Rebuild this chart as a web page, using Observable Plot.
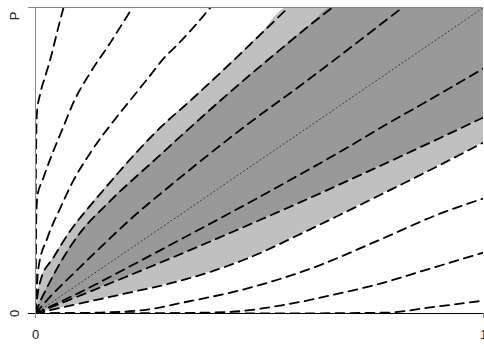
<!DOCTYPE html>
<html><head><meta charset="utf-8">
<script src="https://cdn.jsdelivr.net/npm/d3@7"></script>
<script src="https://cdn.jsdelivr.net/npm/@observablehq/plot@0.6"></script>
<style>body{margin:0;background:#fff;overflow:hidden}</style>
</head><body><div id="chart"></div>
<script>
// Curves: [x, y] pairs, x in [0,1], y in [0,P=1]
const curveA = [[0,0],[0.0004,0.304],[0.0013,0.533],[0.0033,0.657],[0.0112,0.722],[0.0223,0.778],[0.0335,0.833],[0.048,0.918],[0.0625,1]];
const curveB = [[0,0],[0.00067,0.173],[0.0018,0.32],[0.0045,0.386],[0.0156,0.435],[0.0335,0.507],[0.0625,0.611],[0.0848,0.69],[0.1228,0.788],[0.1674,0.886],[0.2165,1]];
const curveC = [[0,0],[0.0011,0.042],[0.0033,0.092],[0.0067,0.15],[0.0268,0.248],[0.0558,0.346],[0.0848,0.435],[0.1228,0.526],[0.1786,0.637],[0.2054,0.686],[0.2522,0.771],[0.2857,0.833],[0.317,0.879],[0.3527,0.935],[0.3906,1]];
const curveD = [[0,0],[0.0045,0.059],[0.0112,0.108],[0.0402,0.183],[0.0781,0.271],[0.1183,0.346],[0.1451,0.392],[0.2188,0.516],[0.279,0.608],[0.346,0.696],[0.442,0.827],[0.5022,0.912],[0.5647,1]];
const curveE = [[0,0],[0.0112,0.042],[0.0223,0.075],[0.0558,0.167],[0.1004,0.265],[0.1607,0.359],[0.2723,0.51],[0.4129,0.696],[0.4799,0.781],[0.5469,0.863],[0.6138,0.944],[0.6629,1]];
const curveF = [[0,0],[0.0335,0.056],[0.0781,0.121],[0.1451,0.216],[0.2188,0.317],[0.2902,0.405],[0.3616,0.49],[0.4732,0.618],[0.5915,0.745],[0.7031,0.869],[0.8192,1]];
const diagonal = [[0,0],[1,1]];
const curveG = [[0,0],[0.1004,0.07],[0.2121,0.155],[0.3237,0.242],[0.4464,0.338],[0.5692,0.437],[0.6875,0.535],[0.7857,0.62],[0.8973,0.713],[1,0.801]];
const curveH = [[0,0],[0.1004,0.059],[0.2121,0.126],[0.3237,0.194],[0.4353,0.264],[0.5915,0.364],[0.7701,0.483],[0.8438,0.533],[0.9196,0.585],[1,0.641]];
const curveI = [[0,0],[0.1004,0.033],[0.2121,0.069],[0.3237,0.107],[0.4732,0.18],[0.6071,0.271],[0.7701,0.388],[0.8527,0.448],[0.9196,0.498],[1,0.559]];
const curveJ = [[0,0],[0.1451,0.003],[0.25,0.013],[0.3304,0.036],[0.4732,0.082],[0.6205,0.15],[0.7701,0.242],[0.904,0.327],[1,0.376]];
const curveK = [[0,0],[0.2567,0.0005],[0.4286,0.005],[0.5469,0.026],[0.6585,0.059],[0.7701,0.098],[0.8817,0.147],[1,0.199]];
const curveL = [[0,0],[0.5915,0.0005],[0.7857,0.003],[0.8817,0.02],[1,0.042]];

const xTicks = [0, 1], xTickLabels = ["0", "1"];
const yTicks = [0, 1], yTickLabels = ["0", "P"];

const rows = pts => pts.map(([x, y]) => ({x, y}));
const topRight = [1, 1];
const dashedCurves = [curveA, curveB, curveC, curveD, curveE, curveF, curveG, curveH, curveI, curveJ, curveK, curveL];

const area = (pts, fill) => Plot.areaY(rows(pts), {x: "x", y: "y", fill, curve: "monotone-x", clip: true});

const chart = Plot.plot({
  width: 484, height: 345,
  marginLeft: 35, marginRight: 1, marginTop: 7, marginBottom: 32,
  x: {domain: [0, 1], axis: null},
  y: {domain: [0, 1], axis: null},
  style: {fontFamily: "'Liberation Sans', Arial, sans-serif", fontSize: "13px", background: "#fff", overflow: "hidden"},
  marks: [
    area([...curveD, topRight], "#c0c0c0"),
    area([...curveE, topRight], "#999999"),
    area(curveH, "#c0c0c0"),
    area(curveI, "#ffffff"),
    Plot.line(rows(diagonal), {x: "x", y: "y", stroke: "#333", strokeWidth: 1, strokeDasharray: "1,3"}),
    ...dashedCurves.map(c => Plot.line(rows(c), {x: "x", y: "y", stroke: "#000", strokeWidth: 1.8, strokeDasharray: "9,6", curve: "monotone-x", clip: true})),
    Plot.ruleX([0], {stroke: "#888"}),
    Plot.ruleY([1], {stroke: "#888"}),
    Plot.ruleY([0], {stroke: "#000"}),
    Plot.axisY([1], {tickSize: 7, tickFormat: () => "", stroke: "#888", label: null}),
    Plot.axisY([0], {tickSize: 7, tickFormat: () => "", stroke: "#000", label: null}),
    Plot.axisX(xTicks, {tickSize: 5, tickPadding: 11, tickFormat: d => xTickLabels[xTicks.indexOf(d)], stroke: "#888", fill: "#222", label: null}),
    Plot.text([0], {frameAnchor: "left", y: () => yTicks[0], text: () => yTickLabels[0], rotate: -90, dx: -20.5, fill: "#222", lineAnchor: "middle", textAnchor: "middle"}),
    Plot.text([1], {frameAnchor: "left", y: () => yTicks[1], text: () => yTickLabels[1], rotate: -90, dx: -20.5, dy: 8.5, fill: "#222", lineAnchor: "middle", textAnchor: "middle"})
  ]
});
document.getElementById("chart").appendChild(chart);
</script>
</body></html>
